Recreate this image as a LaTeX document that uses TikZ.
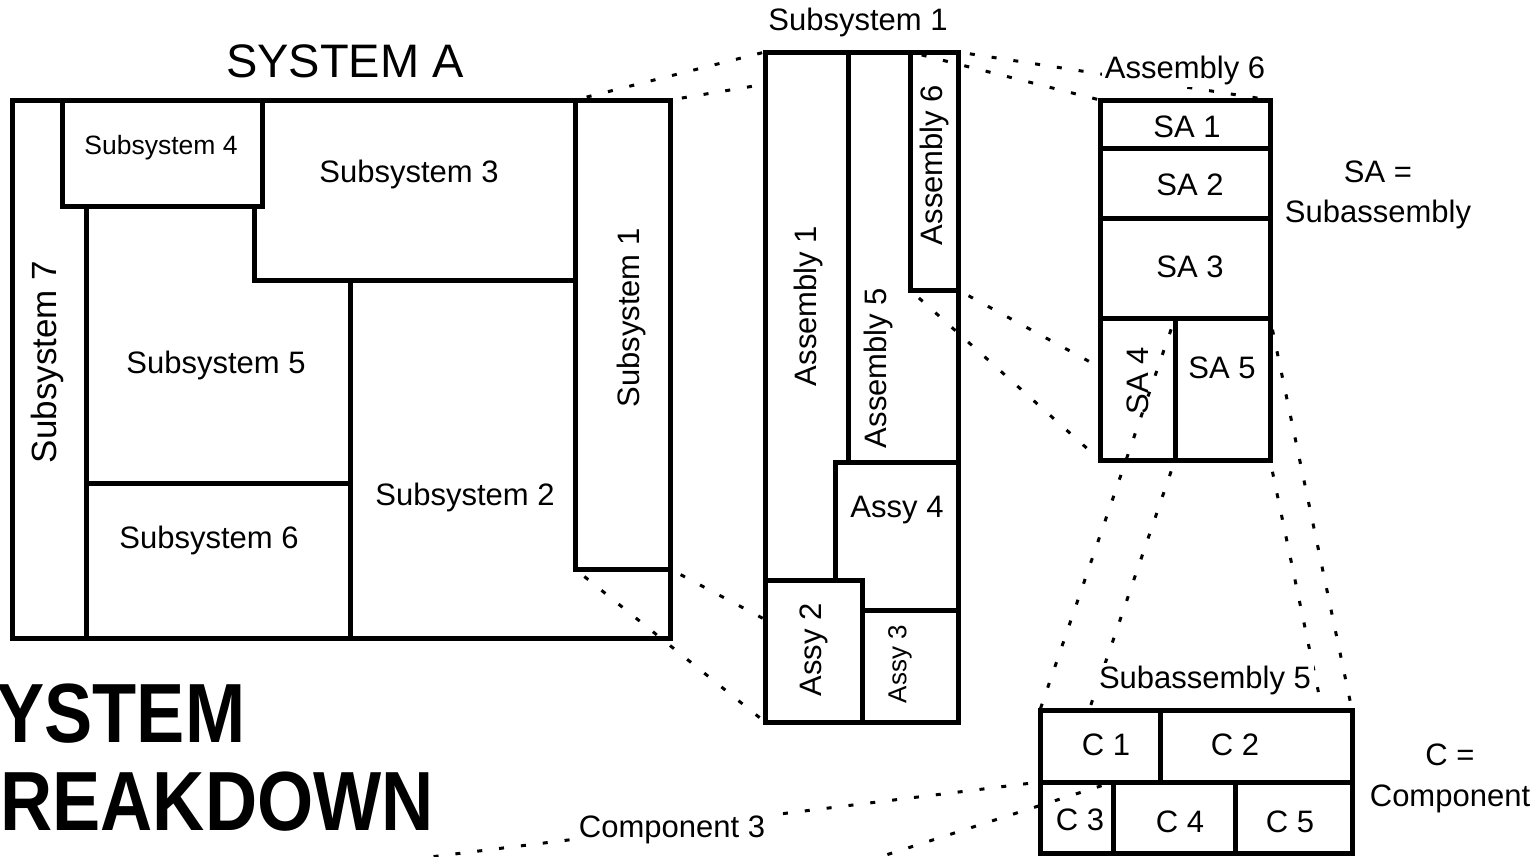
\documentclass[tikz,border=0pt]{standalone}
\usepackage{fontspec}
\setmainfont{Liberation Sans}
\newfontfamily\titlefont[FakeStretch=0.86]{Liberation Sans}
\usetikzlibrary{positioning}

\begin{document}
\begin{tikzpicture}[
  x=1pt, y=-1pt,
  % boxes are white so that the guide lines drawn before them vanish behind
  box/.style={draw, fill=white, line width=5pt, inner sep=0pt, outer sep=0pt},
  frame/.style={inner sep=0pt, outer sep=0pt},
  boxline/.style={line width=5pt, fill=white},
  part/.style={line width=5pt},
  guide/.style={line width=3pt, dash pattern=on 5pt off 17pt, dash phase=10pt},
  lbl/.style={font=\fontsize{31}{36}\selectfont, inner sep=0pt},
  lblsm/.style={font=\fontsize{26}{30}\selectfont, inner sep=0pt},
  legend/.style={font=\fontsize{31}{40}\selectfont, inner sep=0pt, align=center},
  cover/.style={lbl, fill=white, inner sep=3pt},
  title/.style={font=\titlefont\bfseries\fontsize{84}{88}\selectfont, inner sep=0pt, anchor=base west}
]
\useasboundingbox (0,0) rectangle (1540,857);

% system A
\node[lbl, font=\fontsize{47}{50}\selectfont] (ttlsysA) at (345,61) {SYSTEM A};
\node[box, minimum width=658pt, minimum height=538pt] (sysA) at (341,369) {};
\node[box, minimum width=200pt, minimum height=106pt] (sub4) at (162,153) {};
\node[box, minimum width=95pt, minimum height=469pt] (sub1) at (622.5,334.5) {};
\draw[part] (86,206) -- (86,638);
\draw[part] (254,206) -- (254,280) -- (575,280);
\draw[part] (350,280) -- (350,638);
\draw[part] (86,483) -- (350,483);
\node[lblsm, font=\fontsize{26.5}{30}\selectfont] (lsub4) at (161,148) {Subsystem 4};
\node[lbl] (lsub3) at (409,174) {Subsystem 3};
\node[lbl] (lsub5) at (216,365) {Subsystem 5};
\node[lbl] (lsub6) at (209,540) {Subsystem 6};
\node[lbl] (lsub2) at (465,497) {Subsystem 2};
\node[lbl, font=\fontsize{35}{40}\selectfont, rotate=90] (lsub7) at (47,362) {Subsystem 7};
\node[lbl, rotate=90] (lsub1) at (631,318) {Subsystem 1};

% subsystem 1
\node[frame, minimum width=193pt, minimum height=670pt] (subsysone) at (861.5,387) {};
\foreach \c in {north west, north east, south west, south east}
  \draw[guide] (sub1.\c) -- (subsysone.\c);
\draw[boxline] (subsysone.north west) rectangle (subsysone.south east);
\node[box, fill=none, minimum width=48pt, minimum height=238pt] (asm6) at (934,171) {};
\draw[part] (848,52) -- (848,462);
\draw[part] (958,462) -- (835,462) -- (835,580);
\draw[part] (765,580) -- (862,580) -- (862,722);
\draw[part] (862,610) -- (958,610);
\node[lbl] (ttlsub1) at (858,22) {Subsystem 1};
\node[lbl, rotate=90] (lasm1) at (808,306) {Assembly 1};
\node[lbl, rotate=90] (lasm5) at (878,368) {Assembly 5};
\node[lbl, rotate=90] (lasm6) at (934,165) {Assembly 6};
\node[lbl] (lasm4) at (897,510) {Assy 4};
\node[lbl, rotate=90] (lasm2) at (814,650) {Assy 2};
\node[lblsm, rotate=90] (lasm3) at (900,664) {Assy 3};

% assembly 6
\node[frame, minimum width=170pt, minimum height=360pt] (asmsix) at (1185,280) {};
\foreach \c in {north west, north east, south west, south east}
  \draw[guide] (asm6.\c) -- (asmsix.\c);
\node[cover] (ttlasm6) at (1185,70) {Assembly 6};
\draw[boxline] (asmsix.north west) rectangle (asmsix.south east);
\draw[part] (1100,148) -- (1270,148);
\draw[part] (1100,218) -- (1270,218);
\draw[part] (1100,318) -- (1270,318);
\node[box, fill=none, minimum width=95pt, minimum height=142pt] (sa5) at (1222.5,389) {};
\node[lbl] (lsa1) at (1187,127) {SA 1};
\node[lbl] (lsa2) at (1190,185) {SA 2};
\node[lbl] (lsa3) at (1190,267) {SA 3};
\node[lbl, rotate=90] (lsa4) at (1138,381) {SA 4};
\node[lbl] (lsa5) at (1222,368) {SA 5};
\node[legend] (legsa) at (1378,195) {SA =\\Subassembly};

% subassembly 5
\node[frame, minimum width=312pt, minimum height=143pt] (subasm5) at (1196,781.5) {};
\foreach \c in {north west, north east, south west, south east}
  \draw[guide] (sa5.\c) -- (subasm5.\c);
\node[cover] (ttlsa5) at (1205,680) {Subassembly 5};
\draw[boxline] (subasm5.north west) rectangle (subasm5.south east);
\draw[part] (1040,782) -- (1352,782);
\draw[part] (1160,710) -- (1160,782);
\node[box, fill=none, minimum width=73pt, minimum height=71pt] (c3) at (1076.5,817.5) {};
\draw[part] (1235,782) -- (1235,853);
\node[lbl] (lc1) at (1106,745) {C 1};
\node[lbl] (lc2) at (1235,745) {C 2};
\node[lbl] (lc3) at (1080,820) {C 3};
\node[lbl] (lc4) at (1180,822) {C 4};
\node[lbl] (lc5) at (1290,822) {C 5};
\node[legend, font=\fontsize{31}{41}\selectfont] (legc) at (1450,778) {C =\\Component};

% component 3, off the page
\coordinate (comp3a) at (308,872);
\coordinate (comp3b) at (833,872);
\draw[guide] (c3.north west) -- (comp3a);
\draw[guide] (c3.north east) -- (comp3b);
\node[cover] (ttlc3) at (672,830) {Component 3};

\node[title] (ttlsys) at (-52,742) {SYSTEM};
\node[title] (ttlbrk) at (-52,830) {BREAKDOWN};
\end{tikzpicture}
\end{document}
